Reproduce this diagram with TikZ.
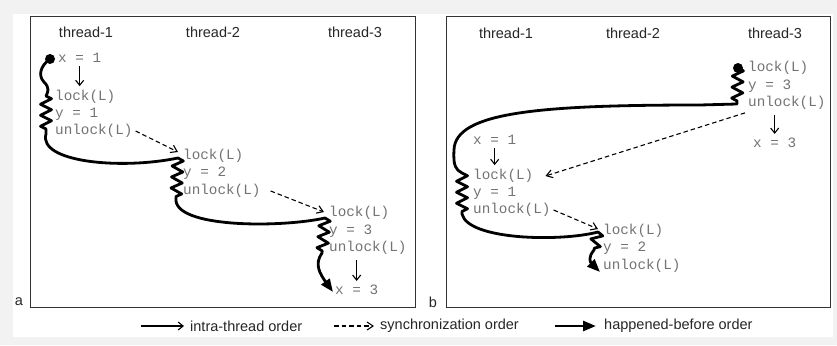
\documentclass[tikz,border=0pt]{standalone}
\usepackage{fontspec}
\setsansfont{Liberation Sans}
\setmonofont{Liberation Mono}
\usetikzlibrary{arrows.meta, decorations.pathmorphing}

\definecolor{codegray}{gray}{0.45}
\definecolor{labelgray}{gray}{0.15}
\definecolor{pagegray}{gray}{0.95}

\tikzset{
  code/.style={font=\fontsize{14.3}{16}\selectfont\ttfamily, text=codegray, anchor=west, inner sep=0pt},
  thread/.style={font=\fontsize{14.5}{16}\selectfont\sffamily, text=labelgray, inner sep=0pt},
  legend/.style={thread, anchor=west},
  frame/.style={draw=black!80, line width=1pt},
  dot/.style={circle, fill=black, inner sep=0pt, minimum size=10pt},
  intra/.style={-{Straight Barb[length=5pt,width=8pt]}, line width=1.1pt},
  sync/.style={-{Straight Barb[length=6pt,width=8pt]}, dash pattern=on 4.5pt off 3pt, line width=1.1pt},
  hb/.style={line width=2.8pt, line cap=round, line join=round, -{Triangle[length=13pt,width=10pt]}},
  coil/.style={decoration={zigzag, segment length=11pt, amplitude=5.5pt}},
}

\begin{document}
\begin{tikzpicture}[x=1pt,y=-1pt]
\useasboundingbox (0,0) rectangle (837,345);
\fill[pagegray] (0,0) rectangle (837,345);
\fill[white] (13,14) rectangle (833,337);

% panel a
\draw[frame] (30,17) rectangle (415,307);
\node[thread] (alabel) at (19,302) {a};
\node[thread] (ath1) at (86,32) {thread-1};
\node[thread] (ath2) at (213,32) {thread-2};
\node[thread] (ath3) at (355,32) {thread-3};

\node[dot] (adot) at (50,59) {};
\node[code] (a1x) at (58,58) {x = 1};
\node[code] (a1lock) at (55,97) {lock(L)};
\node[code] (a1y) at (55,114) {y = 1};
\node[code] (a1unlock) at (55,131) {unlock(L)};

\node[code] (a2lock) at (183,156) {lock(L)};
\node[code] (a2y) at (183,173) {y = 2};
\node[code] (a2unlock) at (183,191) {unlock(L)};

\node[code] (a3lock) at (329,213) {lock(L)};
\node[code] (a3y) at (329,231) {y = 3};
\node[code] (a3unlock) at (329,248) {unlock(L)};
\node[code] (a3x) at (335,290) {x = 3};

\draw[intra] ([yshift=-3pt]a1x.south) -- ([yshift=4pt]a1x.south |- a1lock.north);
\draw[intra] ([yshift=-5pt]a3x.north |- a3unlock.south) -- ([yshift=4pt]a3x.north);
\draw[sync] ([xshift=3pt]a1unlock.east) -- ([xshift=-5pt,yshift=4pt]a2lock.west);
\draw[sync] ([xshift=10pt]a2unlock.east) -- ([xshift=-5pt,yshift=1pt]a3lock.west);

\draw[hb] (adot.center) .. controls (40,66) and (38,76) .. (44,82)
  .. controls (50,88) and (48,92) .. (46,96)
  decorate[coil] { -- (46,134) }
  .. controls (38,162) and (120,170) .. (178,158)
  decorate[coil] { -- (176,198) }
  .. controls (172,228) and (280,228) .. (325,218)
  decorate[coil] { -- (322,253) }
  .. controls (314,264) and (320,274) .. (333,292);

% panel b
\draw[frame] (446,17) rectangle (830,307);
\node[thread] (blabel) at (433,302) {b};
\node[thread] (bth1) at (506,33) {thread-1};
\node[thread] (bth2) at (633,33) {thread-2};
\node[thread] (bth3) at (775,33) {thread-3};

\node[dot] (bdot) at (738,68) {};
\node[code] (b3lock) at (748,68) {lock(L)};
\node[code] (b3y) at (748,86) {y = 3};
\node[code] (b3unlock) at (748,103) {unlock(L)};
\node[code] (b3x) at (753,143) {x = 3};

\node[code] (b1x) at (473,140) {x = 1};
\node[code] (b1lock) at (473,176) {lock(L)};
\node[code] (b1y) at (473,193) {y = 1};
\node[code] (b1unlock) at (473,210) {unlock(L)};

\node[code] (b2lock) at (603,231) {lock(L)};
\node[code] (b2y) at (603,248) {y = 2};
\node[code] (b2unlock) at (603,266) {unlock(L)};

\draw[intra] ([yshift=-5pt]b3x.north |- b3unlock.south) -- ([yshift=4pt]b3x.north);
\draw[intra] ([yshift=-3pt]b1x.south) -- ([yshift=4pt]b1x.south |- b1lock.north);
\draw[sync] ([xshift=-3pt,yshift=-3pt]b3unlock.south west) -- ([xshift=12pt]b1lock.east);
\draw[sync] ([xshift=3pt]b1unlock.east) -- ([xshift=-5pt,yshift=2pt]b2lock.west);

\draw[hb] (bdot.center) decorate[coil] { -- (737,104) }
  -- (700,105) .. controls (540,105) and (455,112) .. (454,150)
  .. controls (453,166) and (456,170) .. (462,173)
  decorate[coil] { -- (462,214) }
  .. controls (468,240) and (560,242) .. (598,232)
  decorate[coil] { -- (594,250) }
  .. controls (588,257) and (590,262) .. (600,272);

% legend
\coordinate (li0) at (141,326);
\coordinate (li1) at (184,326);
\coordinate (ls0) at (334,326);
\coordinate (ls1) at (374,326);
\coordinate (lh0) at (555,326);
\coordinate (lh1) at (596,326);
\draw[intra] (li0) -- (li1);
\draw[sync] (ls0) -- (ls1);
\draw[hb, line cap=butt] (lh0) -- (lh1);
\node[legend] (lintra) at (190,326) {intra-thread order};
\node[legend] (lsync) at (380,326) {synchronization order};
\node[legend] (lhb) at (604,326) {happened-before order};
\end{tikzpicture}
\end{document}
